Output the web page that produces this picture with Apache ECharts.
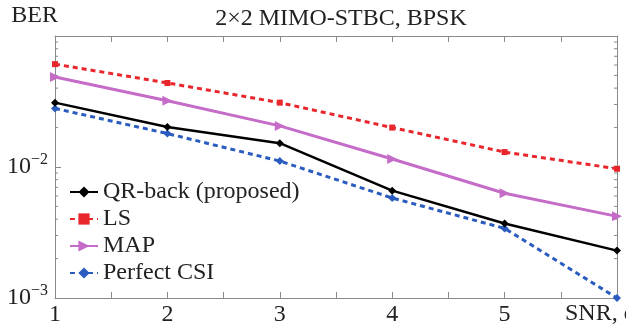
<!DOCTYPE html>
<html>
<head>
<meta charset="utf-8">
<script src="https://cdn.jsdelivr.net/npm/echarts@6/dist/echarts.min.js"></script>
<style>
  html, body {margin: 0; padding: 0; background: #fff;}
  #chart {width: 626px; height: 328px;}
</style>
</head>
<body>
<div id="chart"></div>
<script>
const snr = [1, 2, 3, 4, 5, 6]
const qrBack = [0.031, 0.0202, 0.0152, 0.0066, 0.0037, 0.0023]
const ls = [0.061, 0.0438, 0.031, 0.020, 0.013, 0.0097]
const map = [0.0487, 0.032, 0.0206, 0.0115, 0.0063, 0.0042]
const perfectCsi = [0.028, 0.018, 0.0111, 0.0058, 0.0034, 0.001]
const xTicks = [1, 2, 3, 4, 5]
const yTicks = {0.01: '-2', 0.001: '-3'}

const font = 'Liberation Serif'
const axisColor = '#8a8a8a'

// minor log ticks: 2..9 in each decade
const minorVals = []
;[0.001, 0.01].forEach(d => {
    for (let m = 2; m <= 9; m++) minorVals.push(+(m * d).toPrecision(3))
})

const pairs = ys => snr.map((x, i) => [x, ys[i]])

let myChart = echarts.init(document.getElementById('chart'))
myChart.setOption({
    animation: false,
    textStyle: {fontFamily: font},
    title: {
        text: '2×2 MIMO-STBC, BPSK',
        left: 336,
        textAlign: 'center',
        top: 2,
        textStyle: {fontFamily: font, fontSize: 24, fontWeight: 'normal', color: '#222'}
    },
    grid: {left: 55, right: 9, top: 36, bottom: 30, outerBoundsMode: 'none', containLabel: false},
    legend: {
        orient: 'vertical',
        left: 64,
        top: 175,
        itemWidth: 28,
        itemHeight: 14,
        itemGap: 3,
        textStyle: {fontFamily: font, fontSize: 24, color: '#222'},
        data: ['QR-back (proposed)', 'LS', 'MAP', 'Perfect CSI']
    },
    xAxis: [{
        type: 'value',
        min: 1,
        max: 6,
        interval: 1,
        name: 'SNR, dB',
        nameLocation: 'end',
        nameGap: -52,
        nameTextStyle: {fontFamily: font, fontSize: 24, color: '#222', align: 'left', verticalAlign: 'top', padding: [4, 0, 0, 0]},
        axisLine: {lineStyle: {color: axisColor}},
        axisTick: {inside: true, length: 6, lineStyle: {color: axisColor}},
        minorTick: {show: true, splitNumber: 2, length: 6, lineStyle: {color: axisColor}},
        splitLine: {show: false},
        axisLabel: {
            fontFamily: font, fontSize: 24, color: '#222', margin: 5,
            formatter: v => xTicks.includes(v) ? String(v) : ''
        }
    }, {
        type: 'value',
        position: 'top',
        min: 1,
        max: 6,
        interval: 1,
        axisLine: {lineStyle: {color: axisColor}},
        axisTick: {inside: true, length: 6, lineStyle: {color: axisColor}},
        minorTick: {show: true, splitNumber: 2, length: 6, lineStyle: {color: axisColor}},
        splitLine: {show: false},
        axisLabel: {show: false}
    }],
    yAxis: [{
        type: 'log',
        logBase: 10,
        min: 0.001,
        max: 0.1,
        name: 'BER',
        nameLocation: 'end',
        nameGap: 8,
        nameTextStyle: {fontFamily: font, fontSize: 24, color: '#222', align: 'right', padding: [0, -3, 0, 0]},
        axisLine: {show: true, lineStyle: {color: axisColor}},
        axisTick: {inside: true, length: 6, lineStyle: {color: axisColor}},
        splitLine: {show: false},
        axisLabel: {
            fontFamily: font, fontSize: 24, color: '#222', margin: 7,
            formatter: v => {
                const k = Object.keys(yTicks).find(t => Math.abs(+t - v) < v * 1e-6)
                return k ? '10{s|−' + yTicks[k].slice(1) + '}' : ''
            },
            rich: {s: {fontFamily: font, fontSize: 16, padding: [0, 0, 14, 0], color: '#222'}}
        }
    }, {
        type: 'log',
        logBase: 10,
        min: 0.001,
        max: 0.1,
        position: 'right',
        axisLine: {show: true, lineStyle: {color: axisColor}},
        axisTick: {inside: true, length: 6, lineStyle: {color: axisColor}},
        splitLine: {show: false},
        axisLabel: {show: false}
    }],
    series: [
        {
            name: 'QR-back (proposed)',
            type: 'line',
            data: pairs(qrBack),
            symbol: 'diamond',
            symbolSize: 8,
            color: '#000',
            lineStyle: {width: 2.5, color: '#000'},
            z: 4
        },
        {
            name: 'LS',
            type: 'line',
            data: pairs(ls),
            symbol: 'rect',
            symbolSize: 6,
            color: '#e8262b',
            lineStyle: {width: 3, type: [5, 4], color: '#e8262b'}
        },
        {
            name: 'MAP',
            type: 'line',
            data: pairs(map),
            symbol: 'triangle',
            symbolRotate: -90,
            symbolSize: 10,
            color: '#c56cc8',
            lineStyle: {width: 3, color: '#c56cc8'}
        },
        {
            name: 'Perfect CSI',
            type: 'line',
            data: pairs(perfectCsi),
            symbol: 'diamond',
            symbolSize: 8,
            color: '#2a5bbf',
            lineStyle: {width: 3, type: [5, 4], color: '#2a5bbf'},
            z: 3
        },
        {
            type: 'custom',
            silent: true,
            clip: false,
            data: minorVals.map(v => [v]),
            renderItem: (params, api) => {
                const l = api.coord([1, api.value(0)])
                const r = api.coord([6, api.value(0)])
                const st = {stroke: axisColor, lineWidth: 1}
                return {
                    type: 'group',
                    children: [
                        {type: 'line', shape: {x1: l[0], y1: l[1], x2: l[0] + 3, y2: l[1]}, style: st},
                        {type: 'line', shape: {x1: r[0], y1: r[1], x2: r[0] - 3, y2: r[1]}, style: st}
                    ]
                }
            },
            encode: {y: 0}
        }
    ]
})
</script>
</body>
</html>
